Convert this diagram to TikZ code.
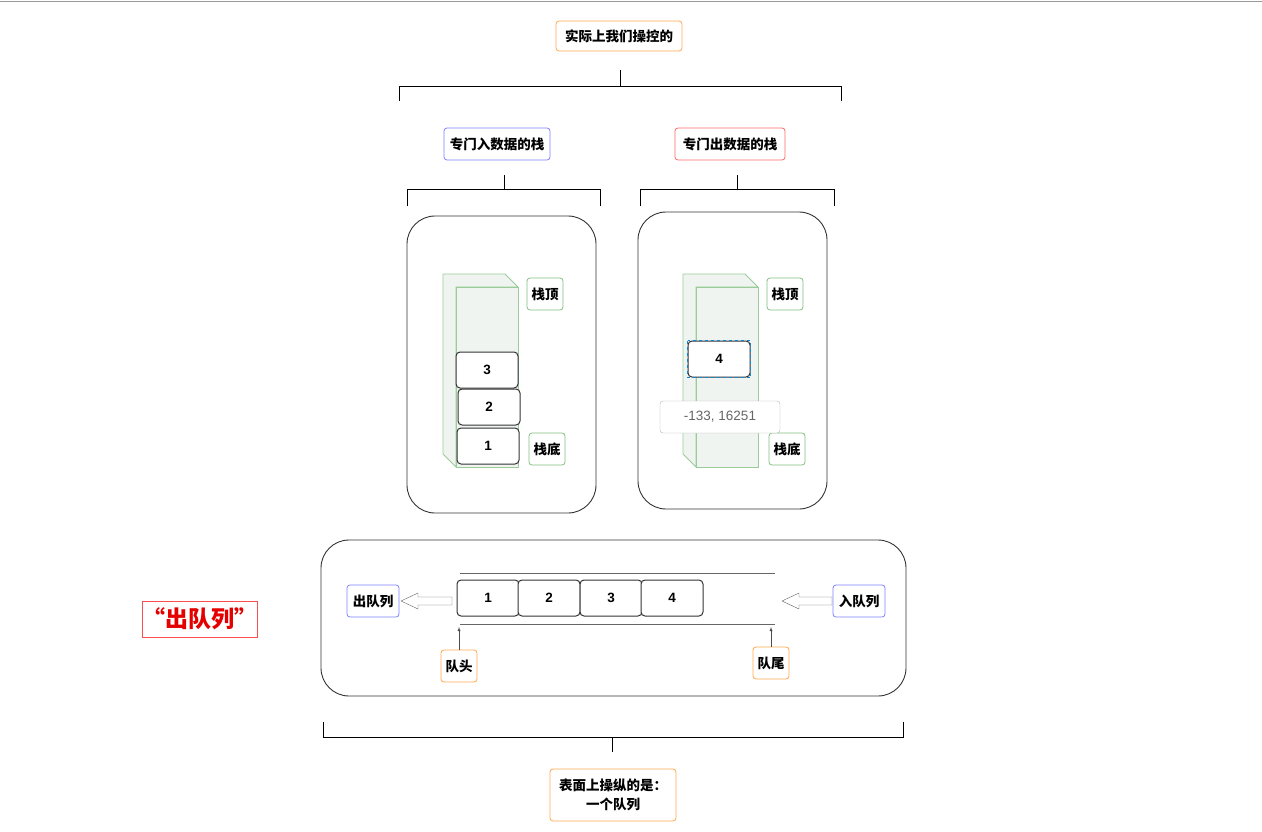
\documentclass[tikz,border=0pt]{standalone}
\usepackage{fontspec}
\setmainfont{Liberation Sans}
\newfontfamily\cjk{Noto Sans CJK SC}
\begin{document}
\begin{tikzpicture}[x=1pt,y=-1pt,
 lab/.style={draw=#1,rounded corners=3,line width=0.8,font=\cjk\bfseries\fontsize{13.5}{15}\selectfont,inner sep=0,align=center},
 blk/.style={draw=black!80,rounded corners=4,line width=1,minimum width=62,minimum height=36,font=\bfseries\fontsize{13.5}{15}\selectfont,inner sep=0,fill=white},
 brace/.style={line width=1},
 frame/.style={draw=black!80,rounded corners=28,line width=0.9},
 hatch/.style={draw=green!50!black!40,line width=0.8,fill=green!30!black!6}
]
\useasboundingbox (0,0) rectangle (1262,832);
\draw[black!40] (0,1) -- (1262,1);
\node[lab=orange!70,minimum width=126,minimum height=30] (top) at (619,36) {实际上我们操控的};
\draw[brace] (399,101)--(399,87)--(841,87)--(841,101) (620,87)--(620,70);
\node[lab=blue!50,minimum width=106,minimum height=32] (in) at (497,144) {专门入数据的栈};
\node[lab=red!60,minimum width=110,minimum height=32] (out) at (730,144) {专门出数据的栈};
\draw[brace] (407,206)--(407,190)--(600,190)--(600,206) (504,190)--(504,175);
\draw[brace] (640,206)--(640,190)--(834,190)--(834,206) (737,190)--(737,175);
\draw[frame] (407,216) rectangle (596,513);
\draw[frame] (638,212) rectangle (827,509);
\foreach \dx in {0,240}{
 \draw[hatch] (443+\dx,274)--(505+\dx,274)--(518+\dx,287)--(456+\dx,287)--(456+\dx,467)--(443+\dx,454)--cycle;
 \draw[hatch] (456+\dx,287) rectangle (518+\dx,467);
}
\node[blk] (s3) at (487,370) {3};
\node[blk] (s2) at (489,407) {2};
\node[blk] (s1) at (488,446) {1};
\node[lab=green!50!black!50,minimum width=36,minimum height=32] (lt) at (545,294) {栈顶};
\node[lab=green!50!black!50,minimum width=36,minimum height=32] (lb) at (547,449) {栈底};
\node[lab=green!50!black!50,minimum width=36,minimum height=32] (rt) at (785,294) {栈顶};
\node[lab=green!50!black!50,minimum width=36,minimum height=32] (rb) at (787,449) {栈底};
\node[blk,fill=white] (s4) at (719,359) {4};
\draw[cyan!70!blue,dashed,line width=1] (s4.north west) rectangle (s4.south east);
\node[draw=black!30,rounded corners=3,fill=white,minimum width=120,minimum height=32,inner sep=0,text=black!60,font=\fontsize{13.5}{15}\selectfont] (tip) at (720,417) {-133, 16251};
\draw[frame] (321,540) rectangle (906,696);
\coordinate (la) at (460,573); \coordinate (lb2) at (775,573);
\coordinate (lc) at (460,624); \coordinate (ld) at (775,624);
\draw[black!60] (la)--(lb2) (lc)--(ld);
\node[blk] (q1) at (488,598) {1};
\node[blk] (q2) at (549,598) {2};
\node[blk] (q3) at (611,598) {3};
\node[blk] (q4) at (672,598) {4};
\node[lab=blue!50,minimum width=52,minimum height=32] (dq) at (373,601) {出队列};
\node[lab=blue!50,minimum width=52,minimum height=32] (eq) at (859,601) {入队列};
\draw[black!60,fill=white] (452,597)--(418,597)--(418,593)--(401,601)--(418,609)--(418,605)--(452,605)--cycle;
\draw[black!60,fill=white] (832,597)--(799,597)--(799,593)--(782,601)--(799,609)--(799,605)--(832,605)--cycle;
\node[lab=orange!70,minimum width=36,minimum height=32] (head) at (459,666) {队头};
\node[lab=orange!70,minimum width=36,minimum height=32] (tail) at (771,663) {队尾};
\draw[-latex,black!70] (head.north)--(459,627);
\draw[-latex,black!70] (tail.north)--(771,627);
\node[draw=red!70,fill=white,minimum width=114,minimum height=36,inner sep=0,text=red!90!black,font=\cjk\bfseries\fontsize{23}{25}\selectfont] (big) at (200,619) {“出队列”};
\draw[brace] (323,722)--(323,737)--(903,737)--(903,722) (612,737)--(612,752);
\node[lab=orange!70,minimum width=126,minimum height=52] (bot) at (613,795) {表面上操纵的是：\\[4pt]一个队列};
\end{tikzpicture}
\end{document}
